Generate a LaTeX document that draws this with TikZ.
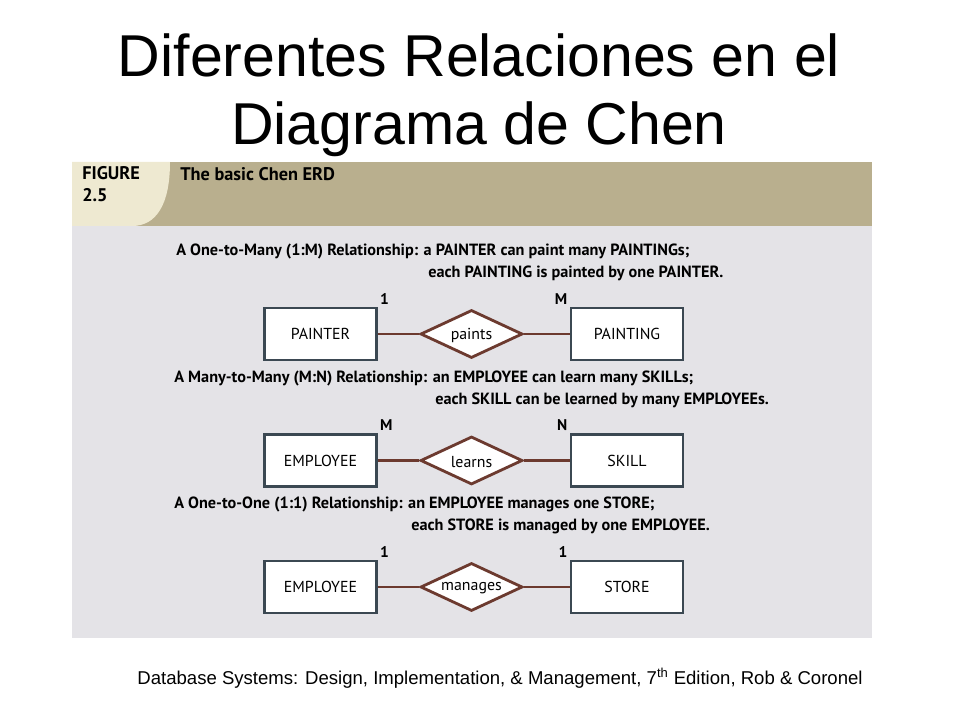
\documentclass[tikz,border=0pt]{standalone}
\usepackage{fontspec}
\setmainfont{Liberation Sans}
\newfontfamily\figfont{PT Sans}
\usetikzlibrary{shapes.geometric}

\definecolor{headtan}{HTML}{B9AF8E}
\definecolor{headcream}{HTML}{EEE9D1}
\definecolor{panelgray}{HTML}{E4E3E7}
\definecolor{boxedge}{HTML}{3B4852}
\definecolor{relbrown}{HTML}{6C3A2F}

\begin{document}
\begin{tikzpicture}[x=0.025cm,y=-0.025cm,
	boxfont/.style={font=\figfont\fontsize{11.3}{13}\selectfont},
	entity/.style={draw=boxedge,line width=1.8pt,fill=white,minimum width=2.8cm,minimum height=1.3cm,boxfont},
	relation/.style={diamond,draw=relbrown,line width=2pt,fill=white,inner sep=0pt,minimum width=2.55cm,minimum height=1.2cm},
	link/.style={draw=relbrown,line width=2.1pt},
	card/.style={inner sep=1.5pt,font=\figfont\bfseries\fontsize{11}{13}\selectfont},
	desc/.style={anchor=base west,inner sep=0pt,font=\figfont\bfseries\fontsize{11.55}{13}\selectfont},
	head/.style={anchor=base west,inner sep=0pt,font=\figfont\bfseries\fontsize{13}{15}\selectfont}]
\useasboundingbox (0,0) rectangle (960,720);
% title
\node[anchor=base,inner sep=0pt,font=\fontsize{42}{50}\selectfont] (title1) at (479,77) {Diferentes Relaciones en el};
\node[anchor=base,inner sep=0pt,font=\fontsize{42}{50}\selectfont] (title2) at (479,145) {Diagrama de Chen};
% figure panel
\fill[panelgray] (72,162) rectangle (872,638);
\fill[headtan] (72,162) rectangle (872,226);
\fill[headcream] (72,162) -- (170,162) .. controls (170,205) and (156,226) .. (132,226) -- (72,226) -- cycle;
\node[head] (fig) at (82,180) {FIGURE};
\node[head] (fignum) at (82,202) {2.5};
\node[head] (figtitle) at (180,181) {The basic Chen ERD};
% descriptions
\node[desc] (d1a) at (176,256) {A One-to-Many (1:M) Relationship: a PAINTER can paint many PAINTINGs;};
\node[desc] (d1b) at (428,278) {each PAINTING is painted by one PAINTER.};
\node[desc] (d2a) at (174,382.5) {A Many-to-Many (M:N) Relationship: an EMPLOYEE can learn many SKILLs;};
\node[desc] (d2b) at (435,404.5) {each SKILL can be learned by many EMPLOYEEs.};
\node[desc] (d3a) at (174,509) {A One-to-One (1:1) Relationship: an EMPLOYEE manages one STORE;};
\node[desc] (d3b) at (411,531) {each STORE is managed by one EMPLOYEE.};
% the three Chen rows
\foreach \n/\y/\entA/\relname/\entB/\ca/\cb in {1/334/PAINTER/paints/PAINTING/1/M,2/460.5/EMPLOYEE/learns/SKILL/M/N,3/587/EMPLOYEE/manages/STORE/1/1}
{
	\node[entity] (ea\n) at (320.5,\y) {\entA};
	\node[relation,label={[boxfont,yshift=-1pt]center:\relname}] (rel\n) at (471.5,\y) {};
	\node[entity] (eb\n) at (627,\y) {\entB};
	\draw[link] (ea\n) -- (rel\n);
	\draw[link] (rel\n) -- (eb\n);
	\node[card,anchor=south west] (ca\n) at (ea\n.north east) {\ca};
	\node[card,anchor=south east] (cb\n) at (eb\n.north west) {\cb};
}
% source line
\node[anchor=base,inner sep=0pt,font=\fontsize{13.2}{15}\selectfont] (source) at (500,684) {Database Systems: Design, Implementation, \& Management, 7\textsuperscript{th} Edition, Rob \& Coronel};
\end{tikzpicture}
\end{document}
